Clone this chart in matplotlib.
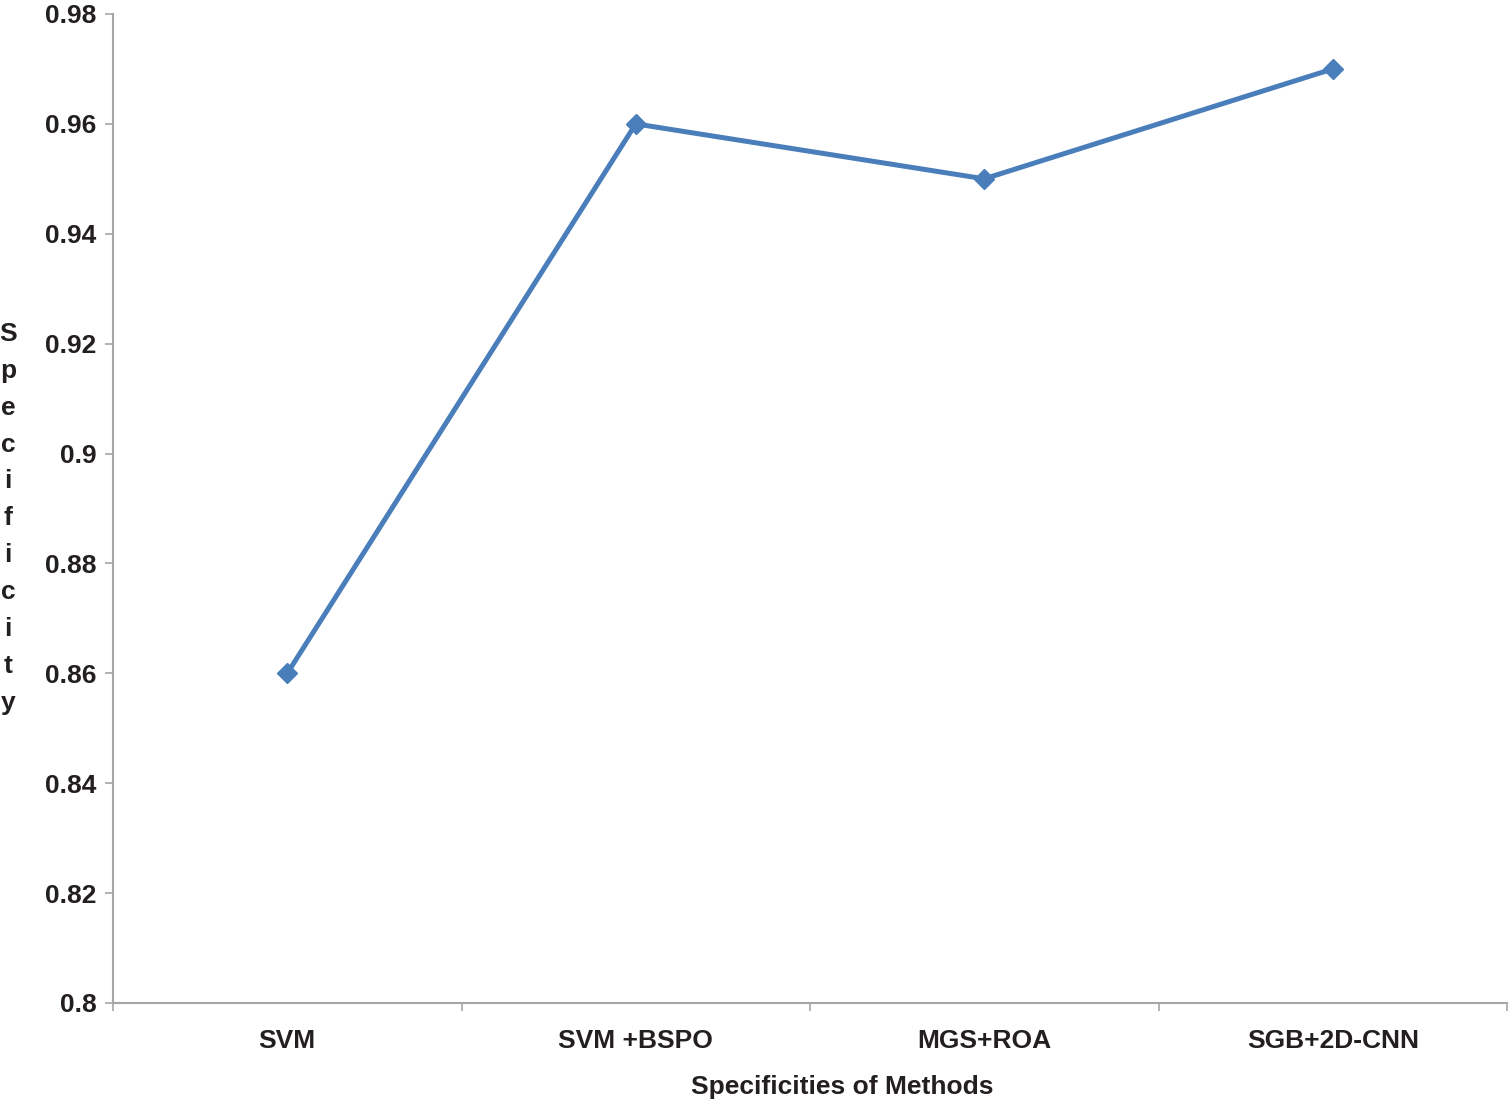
import matplotlib.pyplot as plt
from matplotlib import font_manager

# data
methods = ['SVM', 'SVM +BSPO', 'MGS+ROA', 'SGB+2D-CNN']
specificity = [0.86, 0.96, 0.95, 0.97]
yticks = [0.8, 0.82, 0.84, 0.86, 0.88, 0.9, 0.92, 0.94, 0.96, 0.98]

names = {f.name for f in font_manager.fontManager.ttflist}
fam = ['Liberation Sans Narrow'] if 'Liberation Sans Narrow' in names else ['Liberation Sans']
plt.rcParams['font.family'] = fam + ['DejaVu Sans']
plt.rcParams['font.weight'] = 'bold'

fs = 19
fig = plt.figure(figsize=(15.09, 11), dpi=100)
ax = fig.add_axes([113 / 1509, 1 - 1003 / 1100, (1507 - 113) / 1509, (1003 - 14) / 1100])

x = list(range(len(methods)))
ax.plot(x, specificity, color='#4a7ebb', lw=3.6, marker='D', ms=10, mec='#4a7ebb', mfc='#4a7ebb')

ax.set_xlim(-0.5, len(methods) - 0.5)
ax.set_ylim(0.8, 0.98)
ax.set_yticks(yticks)
ax.set_yticklabels([('%g' % v) for v in yticks], fontsize=fs, fontweight='bold', color='#231f20')
ax.set_xticks(x)
ax.set_xticklabels(methods, fontsize=fs, fontweight='bold', color='#231f20')
ax.set_xticks([i - 0.5 for i in range(len(methods) + 1)], minor=True)
ax.tick_params(axis='x', which='major', length=0, pad=19)
ax.tick_params(axis='x', which='minor', length=6, color='#a6a6a6', width=1.2)
ax.tick_params(axis='y', length=6, color='#a6a6a6', width=1.2, pad=6)

for s in ['top', 'right']:
    ax.spines[s].set_visible(False)
for s in ['left', 'bottom']:
    ax.spines[s].set_color('#a6a6a6')
    ax.spines[s].set_linewidth(1.5)

ax.set_xlabel('Specificities of Methods', fontsize=fs, fontweight='bold', color='#231f20')
ax.xaxis.set_label_coords((842 - 113) / (1507 - 113), -0.073)
ax.set_ylabel('\n'.join('Specificity'), rotation=0, fontsize=fs, fontweight='bold',
              color='#231f20', linespacing=1.68, va='center', ha='center')
ax.yaxis.set_label_coords(-(113 - 8) / (1507 - 113), 0.49)

fig.savefig('out.png', dpi=100)
